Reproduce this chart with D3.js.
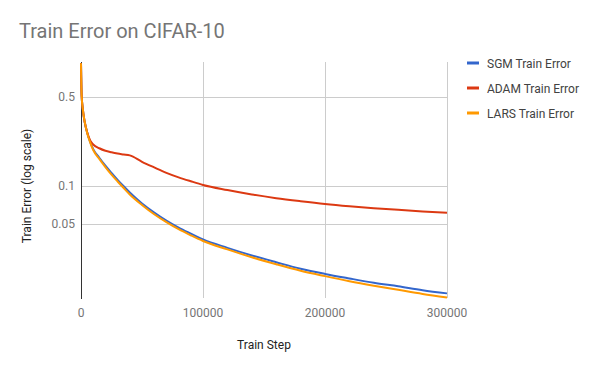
<!DOCTYPE html>
<html><head><meta charset="utf-8">
<script src="https://cdn.jsdelivr.net/npm/d3@7"></script>
<style>body{margin:0;background:#fff;}svg{display:block;font-family:Roboto,sans-serif;}</style>
</head><body>
<svg id="chart" width="600" height="371"></svg>
<script>
const steps = [0,500,1500,3000,5000,7500,10000,15000,20000,25000,30000,35000,40000,50000,60000,70000,80000,90000,100000,120000,140000,160000,180000,200000,220000,240000,260000,280000,300000];
const sgm  = [0.92,0.52,0.40,0.32,0.265,0.222,0.195,0.1667,0.1445,0.1268,0.1119,0.0995,0.0889,0.073,0.062,0.0536,0.0472,0.0423,0.0381,0.0327,0.0285,0.0252,0.0224,0.0204,0.0188,0.0174,0.0163,0.0152,0.01435];
const adam = [0.92,0.52,0.40,0.32,0.265,0.228,0.212,0.198,0.189,0.184,0.180,0.177,0.174,0.155,0.140,0.127,0.117,0.109,0.102,0.0930,0.0858,0.0803,0.0760,0.0723,0.0694,0.0670,0.0650,0.0632,0.0617];
const lars = [0.92,0.52,0.40,0.32,0.262,0.220,0.192,0.1633,0.1409,0.1230,0.1086,0.0964,0.0859,0.071,0.060,0.052,0.0458,0.0410,0.0370,0.0318,0.0276,0.0243,0.0216,0.0196,0.0179,0.0165,0.0153,0.0142,0.0133];
const seriesNames = ["SGM Train Error","ADAM Train Error","LARS Train Error"];
const seriesColors = ["#3366cc","#dc3912","#ff9900"];
const xTicks = [0,100000,200000,300000];
const yTicks = [0.05,0.1,0.5];
const yTickLabels = ["0.05","0.1","0.5"];

const svg = d3.select("#chart");
const L=81,R=447,T=62,B=298;
const x = d3.scaleLinear().domain([0,300000]).range([L,R]);
const y = d3.scaleLog().domain([0.0132,0.942]).range([B,T]);

// gridlines
svg.append("g").selectAll("line").data(xTicks.slice(1)).join("line")
  .attr("x1",d=>x(d)).attr("x2",d=>x(d)).attr("y1",T).attr("y2",B)
  .attr("stroke","#cccccc").attr("stroke-width",1).attr("shape-rendering","crispEdges");
svg.append("g").selectAll("line").data(yTicks).join("line")
  .attr("x1",L).attr("x2",R).attr("y1",d=>y(d)).attr("y2",d=>y(d))
  .attr("stroke","#cccccc").attr("stroke-width",1).attr("shape-rendering","crispEdges");

// left axis line
svg.append("line").attr("x1",L).attr("x2",L).attr("y1",T).attr("y2",B+1)
  .attr("stroke","#333333").attr("stroke-width",1).attr("shape-rendering","crispEdges");

// tick labels
svg.append("g").selectAll("text").data(xTicks).join("text")
  .attr("x",d=>x(d)).attr("y",317).attr("text-anchor","middle")
  .attr("font-size",12).attr("fill","#757575").text(d=>d3.format("d")(d));
svg.append("g").selectAll("text").data(yTicks).join("text")
  .attr("x",75).attr("y",d=>y(d)+4).attr("text-anchor","end")
  .attr("font-size",12).attr("fill","#757575").text((d,i)=>yTickLabels[i]);

// titles
svg.append("text").attr("x",19).attr("y",38).attr("font-size",20).attr("fill","#757575").text("Train Error on CIFAR-10");
svg.append("text").attr("x",264).attr("y",349).attr("text-anchor","middle").attr("font-size",12).attr("fill","#222222").text("Train Step");
svg.append("text").attr("transform","translate(31,186) rotate(-90)").attr("text-anchor","middle").attr("font-size",12).attr("fill","#222222").text("Train Error (log scale)");

// lines
const line = d3.line().x((d,i)=>x(steps[i])).y(d=>y(d)).curve(d3.curveMonotoneX);
[sgm,adam,lars].forEach((s,k)=>{
  svg.append("path").attr("d",line(s)).attr("fill","none")
    .attr("stroke",seriesColors[k]).attr("stroke-width",2).attr("stroke-linejoin","round");
});

// legend
const lg = svg.append("g").selectAll("g").data(seriesNames).join("g")
  .attr("transform",(d,i)=>`translate(467,${63+i*25})`);
lg.append("line").attr("x1",0).attr("x2",12).attr("y1",0).attr("y2",0)
  .attr("stroke",(d,i)=>seriesColors[i]).attr("stroke-width",3);
lg.append("text").attr("x",20).attr("y",4.5).attr("font-size",12).attr("fill","#424242").text(d=>d);
</script>
</body></html>
